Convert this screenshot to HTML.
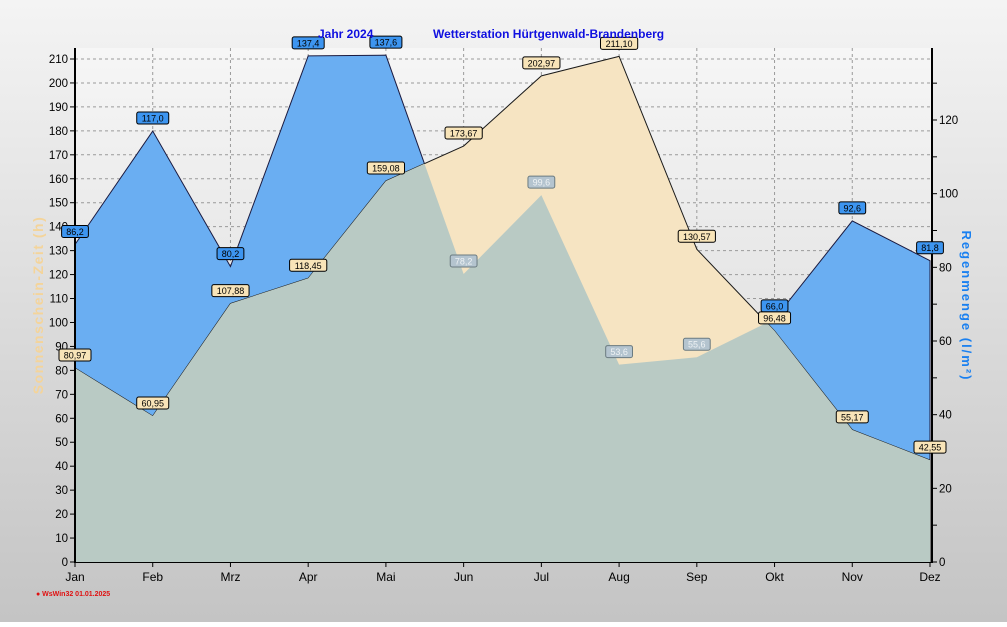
<!DOCTYPE html>
<html><head><meta charset="utf-8"><style>
body{margin:0;width:1007px;height:622px;overflow:hidden;font-family:"Liberation Sans",sans-serif}
</style></head><body>
<svg id="chart" width="1007" height="622" xmlns="http://www.w3.org/2000/svg">
<defs>
<linearGradient id="bg" x1="0" y1="0" x2="0" y2="1"><stop offset="0" stop-color="#f4f4f4"/><stop offset="1" stop-color="#c4c4c4"/></linearGradient>
<linearGradient id="pbg" x1="0" y1="0" x2="0" y2="1"><stop offset="0" stop-color="#f6f6f6"/><stop offset="1" stop-color="#d4d4d4"/></linearGradient>
</defs>
<rect width="1007" height="622" fill="url(#bg)"/>
<rect x="75" y="48" width="857" height="514" fill="url(#pbg)"/>
<g id="grid"></g>
<g id="series"></g>
<g id="axes"></g>
<g id="labels"></g>
<text x="318" y="38" fill="#1010e0" font-size="12" font-weight="bold">Jahr  2024</text>
<text x="433" y="38" fill="#1010e0" font-size="12" font-weight="bold">Wetterstation Hürtgenwald-Brandenberg</text>
<text transform="translate(43,305) rotate(-90)" text-anchor="middle" fill="#f4d49a" font-size="14" font-weight="bold" letter-spacing="1.5">Sonnenschein-Zeit  (h)</text>
<text transform="translate(962,306) rotate(90)" text-anchor="middle" fill="#1a80f0" font-size="13" font-weight="bold" letter-spacing="2">Regenmenge  (l/m²)</text>
<text x="36" y="596" fill="#e01010" font-size="7" font-weight="bold">● WsWin32  01.01.2025</text>
</svg>
<script>
const months=["Jan","Feb","Mrz","Apr","Mai","Jun","Jul","Aug","Sep","Okt","Nov","Dez"];
const sunHours=[80.97,60.95,107.88,118.45,159.08,173.67,202.97,211.10,130.57,96.48,55.17,42.55];
const rainMm=[86.2,117.0,80.2,137.4,137.6,78.2,99.6,53.6,55.6,66.0,92.6,81.8];
const leftTicks=[0,10,20,30,40,50,60,70,80,90,100,110,120,130,140,150,160,170,180,190,200,210];
const rightTicks=[0,20,40,60,80,100,120];
const NS="http://www.w3.org/2000/svg";
const X0=75,X1=930,Y0=562;
const xS=i=>X0+i*(X1-X0)/(months.length-1);
const yL=v=>Y0-v*(562-59)/210;
const yR=v=>Y0-v*(562-120)/120;
function mk(tag,attrs,parent){const e=document.createElementNS(NS,tag);for(const k in attrs)e.setAttribute(k,attrs[k]);parent.appendChild(e);return e;}
const grid=document.getElementById('grid'),series=document.getElementById('series'),axes=document.getElementById('axes'),labels=document.getElementById('labels');
leftTicks.forEach(t=>{if(t===0)return;const l=mk('line',{x1:75,x2:932,y1:yL(t),y2:yL(t),stroke:'#9a9a9a','stroke-dasharray':'3,3','stroke-width':1},grid);

});
months.forEach((m,i)=>{if(i===0||i===months.length-1)return;const l=mk('line',{x1:xS(i),x2:xS(i),y1:48,y2:562,stroke:'#9a9a9a','stroke-dasharray':'3,3','stroke-width':1},grid);

});
function areaPts(vals,yf){let p=X0+','+Y0+' ';vals.forEach((v,i)=>{p+=xS(i)+','+yf(v)+' ';});p+=X1+','+Y0;return p;}
const rainA=mk('polygon',{points:areaPts(rainMm,yR),fill:'#6aaef2',stroke:'#1a1a40','stroke-width':1},series);


const sunA=mk('polygon',{points:areaPts(sunHours,yL),fill:'#f6e4c2',stroke:'#1a1a1a','stroke-width':1},series);


const defs=document.querySelector('defs');
const cp=mk('clipPath',{id:'rainclip'},defs);
mk('polygon',{points:areaPts(rainMm,yR)},cp);
const ov=mk('polygon',{points:areaPts(sunHours,yL),fill:'#b9cac4','clip-path':'url(#rainclip)'},series);


const la=mk('line',{x1:75,x2:75,y1:48,y2:563,stroke:'#000','stroke-width':2},axes);


const ra=mk('line',{x1:932,x2:932,y1:48,y2:563,stroke:'#000','stroke-width':2},axes);


const ba=mk('line',{x1:75,x2:932,y1:562.5,y2:562.5,stroke:'#000','stroke-width':1},axes);


leftTicks.forEach(t=>{mk('line',{x1:70,x2:75,y1:yL(t),y2:yL(t),stroke:'#000'},axes);
const tx=mk('text',{x:68,y:yL(t)+4,'text-anchor':'end','font-size':11.5,fill:'#000'},axes);tx.textContent=t;

});
for(let v=0;v<=138;v+=10){mk('line',{x1:932,x2:937,y1:yR(v),y2:yR(v),stroke:'#000'},axes);}
rightTicks.forEach(t=>{const tx=mk('text',{x:939,y:yR(t)+4,'font-size':11.5,fill:'#000'},axes);tx.textContent=t;

});
months.forEach((m,i)=>{mk('line',{x1:xS(i),x2:xS(i),y1:562,y2:567,stroke:'#000'},axes);
const tx=mk('text',{x:xS(i),y:581,'text-anchor':'middle','font-size':12,fill:'#000'},axes);tx.textContent=m;

});
function lab(x,y,txt,fill,col,stroke,name){const g=mk('g',{},labels);


const w=txt.length*5.2+6;mk('rect',{x:x-w/2,y:y-7,width:w,height:12,rx:2,fill:fill,stroke:stroke,'stroke-width':1},g);
const t=mk('text',{x:x,y:y+2.5,'text-anchor':'middle','font-size':9,fill:col},g);t.textContent=txt;}
const fmt=(v,d)=>v.toFixed(d).replace('.',',');
rainMm.forEach((v,i)=>{const hidden=yL(sunHours[i])<yR(v);
lab(xS(i),yR(v)-12,fmt(v,1),hidden?'#b4c4cf':'#3d95f0',hidden?'#eef2f4':'#000',hidden?'#6a7a80':'#000','rain-value-label');});
sunHours.forEach((v,i)=>{lab(xS(i),yL(v)-12,fmt(v,2),'#f8e4b8','#000','#000','sunshine-value-label');});
</script>
</body></html>
